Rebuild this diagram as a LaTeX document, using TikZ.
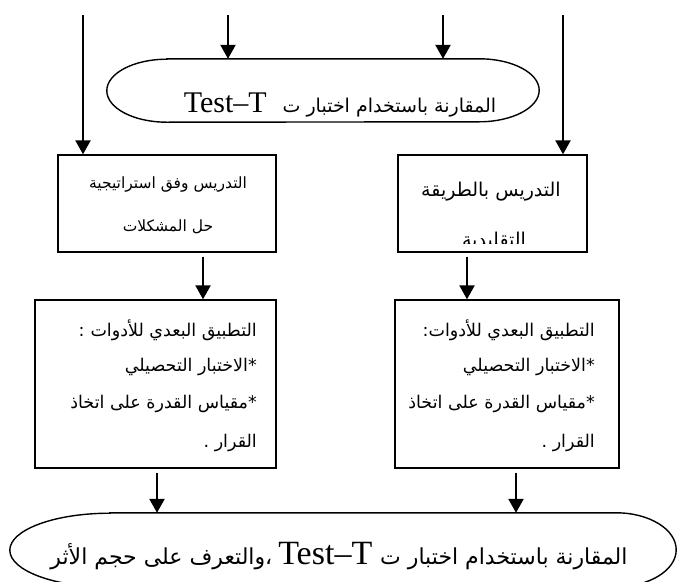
\documentclass[tikz,border=0pt]{standalone}
\usepackage{fontspec}
\setmainfont{Liberation Serif}
\newfontfamily\arabicfont[Script=Arabic]{DejaVu Sans}
\TeXXeTstate=1
\usetikzlibrary{arrows.meta}

\tikzset{
  box/.style={draw, line width=1.4pt, inner sep=0pt},
  hold/.style={inner sep=0pt},
  rim/.style={line width=1.4pt},
  flow/.style={line width=2.4pt, -{Triangle[width=15pt,length=14pt]}},
  txt/.style={inner sep=0pt, font=\arabicfont\fontsize{17.5}{20}\selectfont},
  big/.style={inner sep=0pt, font=\arabicfont\fontsize{19}{22}\selectfont},
  huge/.style={inner sep=0pt, font=\arabicfont\fontsize{22}{26}\selectfont},
  sml/.style={inner sep=0pt, font=\arabicfont\fontsize{15.5}{18}\selectfont},
}

\begin{document}
\begin{tikzpicture}[x=1pt, y=-1pt]
  \clip (0,0) rectangle (677,581);
  \fill[white] (0,0) rectangle (677,581);

  % boxes
  \node[box, minimum width=218pt, minimum height=97pt]  (tl) at (167,203.5) {};
  \node[box, minimum width=189pt, minimum height=97pt]  (tr) at (492.5,203.5) {};
  \node[box, minimum width=241pt, minimum height=168pt] (bl) at (155.5,384) {};
  \node[box, minimum width=224pt, minimum height=168pt] (br) at (507,384) {};

  % terminator shapes
  \node[hold, minimum width=432pt, minimum height=63pt] (cmp) at (323,90.5) {};
  \draw[rim] ([xshift=60pt]cmp.north west) -- ([xshift=-60pt]cmp.north east)
    arc[start angle=90, end angle=-90, x radius=60pt, y radius=31.5pt]
    -- ([xshift=60pt]cmp.south west)
    arc[start angle=270, end angle=90, x radius=60pt, y radius=31.5pt] -- cycle;

  \node[hold, minimum width=666pt, minimum height=74pt] (fin) at (343,550) {};
  \draw[rim] ([xshift=100pt]fin.north west) -- ([xshift=-60pt]fin.north east)
    arc[start angle=90, end angle=-90, x radius=60pt, y radius=37pt]
    -- ([xshift=100pt]fin.south west)
    arc[start angle=270, end angle=90, x radius=100pt, y radius=37pt] -- cycle;

  % texts
  \node[big] (cmpt) at (340,105)
    {\beginR المقارنة باستخدام اختبار ت\hspace{16pt}\beginL{\rmfamily\fontsize{30}{32}\selectfont Test–T}\endL\endR};
  \node[huge] (fint) at (339,556)
    {\beginR المقارنة باستخدام اختبار ت\hspace{8pt}\beginL{\rmfamily\fontsize{34}{36}\selectfont Test–T}\endL\hspace{6pt}،والتعرف على حجم الأثر\endR};

  \node[sml] (tl1) at (168,185) {\beginR التدريس وفق استراتيجية\endR};
  \node[sml] (tl2) at (168,227) {\beginR حل المشكلات\endR};

  \node[big] (tr1) at (491,192) {\beginR التدريس بالطريقة\endR};
  \begin{scope}
    \clip (tr.west |- 0,200) rectangle (tr.east |- 0,243);
    \node[big] (tr2) at (494,241) {\beginR التقليدية\endR};
  \end{scope}

  \node[txt, anchor=east] (bl1) at (257,330) {\beginR التطبيق البعدي للأدوات\hspace{6pt}:\endR};
  \node[txt, anchor=east] (bl2) at (257,367) {\beginR *الاختبار التحصيلي\endR};
  \node[txt, anchor=east] (bl3) at (257,404) {\beginR *مقياس القدرة على اتخاذ\endR};
  \node[txt, anchor=east] (bl4) at (257,443) {\beginR القرار .\endR};

  \node[txt, anchor=east] (br1) at (595,330) {\beginR التطبيق البعدي للأدوات:\endR};
  \node[txt, anchor=east] (br2) at (595,367) {\beginR *الاختبار التحصيلي\endR};
  \node[txt, anchor=east] (br3) at (595,404) {\beginR *مقياس القدرة على اتخاذ\endR};
  \node[txt, anchor=east] (br4) at (595,443) {\beginR القرار .\endR};

  % incoming lines from above
  \coordinate (s1) at (83,15);
  \coordinate (s2) at (228,15);
  \coordinate (s3) at (443,15);
  \coordinate (s4) at (563,15);
  \draw[flow] (s1) -- (s1 |- tl.north);
  \draw[flow] (s2) -- (s2 |- cmp.north);
  \draw[flow] (s3) -- (s3 |- cmp.north);
  \draw[flow] (s4) -- (s4 |- tr.north);

  % box to box
  \coordinate (a1) at ([xshift=36pt]tl.south);
  \coordinate (a2) at ([xshift=-25.5pt]tr.south);
  \draw[flow] ([yshift=-4pt]a1) -- (a1 |- bl.north);
  \draw[flow] ([yshift=-4pt]a2) -- (a2 |- br.north);

  % boxes to final comparison
  \coordinate (b1) at ([xshift=1.5pt]bl.south);
  \coordinate (b2) at ([xshift=9pt]br.south);
  \draw[flow] ([yshift=-4pt]b1) -- (b1 |- fin.north);
  \draw[flow] ([yshift=-4pt]b2) -- (b2 |- fin.north);
\end{tikzpicture}
\end{document}
